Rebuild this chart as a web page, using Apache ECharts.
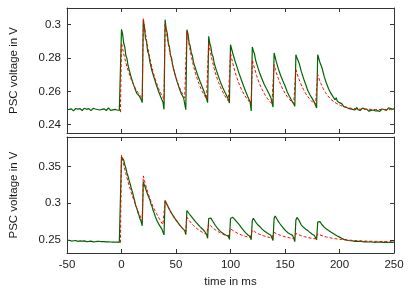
<!DOCTYPE html>
<html>
<head>
<meta charset="utf-8">
<script src="https://cdn.jsdelivr.net/npm/echarts@6/dist/echarts.min.js"></script>
<style>html,body{margin:0;padding:0;background:#fff}#c{width:415px;height:291px}</style>
</head>
<body>
<div id="c"></div>
<script>
// sampling: 1 ms, measured trace starts at -50 ms, model trace starts at -1 ms
const measStart = -50;
const modelStart = -1;
const xTicks = [-50, 0, 50, 100, 150, 200, 250];
const yTicksTop = [0.24, 0.26, 0.28, 0.3];
const yTicksBottom = [0.25, 0.3, 0.35];

// top panel, measured (green)
const measTop = [
0.2490,0.2484,0.2492,0.2487,0.2495,0.2489,0.2483,0.2491,0.2497,0.2488,
0.2493,0.2486,0.2496,0.2490,0.2485,0.2494,0.2499,0.2505,0.2492,0.2488,
0.2496,0.2490,0.2484,0.2493,0.2498,0.2489,0.2494,0.2486,0.2491,0.2497,
0.2488,0.2483,0.2492,0.2487,0.2495,0.2490,0.2485,0.2493,0.2500,0.2491,
0.2486,0.2494,0.2489,0.2484,0.2492,0.2496,0.2488,0.2491,0.2485,0.2480,
0.2972,0.2945,0.2890,0.2866,0.2815,0.2797,0.2755,0.2745,0.2705,0.2700,
0.2660,0.2658,0.2622,0.2620,0.2588,0.2592,0.2575,0.2568,0.2552,0.2532,
0.3025,0.2990,0.2918,0.2898,0.2840,0.2822,0.2778,0.2768,0.2722,0.2718,
0.2680,0.2675,0.2638,0.2636,0.2600,0.2605,0.2566,0.2572,0.2536,0.2492,
0.3030,0.2975,0.2948,0.2888,0.2866,0.2815,0.2798,0.2755,0.2745,0.2703,
0.2698,0.2658,0.2656,0.2618,0.2618,0.2584,0.2586,0.2560,0.2550,0.2490,
0.2970,0.2945,0.2892,0.2872,0.2832,0.2815,0.2775,0.2768,0.2735,0.2725,
0.2695,0.2688,0.2660,0.2652,0.2628,0.2618,0.2594,0.2590,0.2556,0.2532,
0.2930,0.2888,0.2866,0.2822,0.2808,0.2770,0.2760,0.2727,0.2718,0.2688,
0.2680,0.2652,0.2648,0.2620,0.2615,0.2593,0.2588,0.2568,0.2560,0.2530,
0.2880,0.2870,0.2830,0.2822,0.2785,0.2782,0.2745,0.2742,0.2705,0.2697,
0.2668,0.2662,0.2632,0.2628,0.2598,0.2600,0.2566,0.2570,0.2538,0.2482,
0.2866,0.2842,0.2825,0.2788,0.2782,0.2745,0.2738,0.2705,0.2702,0.2673,
0.2671,0.2641,0.2638,0.2615,0.2611,0.2590,0.2586,0.2562,0.2560,0.2506,
0.2830,0.2822,0.2778,0.2770,0.2733,0.2729,0.2695,0.2695,0.2663,0.2662,
0.2633,0.2632,0.2598,0.2602,0.2570,0.2575,0.2546,0.2551,0.2525,0.2510,
0.2820,0.2800,0.2798,0.2768,0.2760,0.2718,0.2707,0.2678,0.2672,0.2641,
0.2635,0.2603,0.2609,0.2578,0.2581,0.2556,0.2560,0.2534,0.2533,0.2500,
0.2820,0.2815,0.2775,0.2775,0.2740,0.2728,0.2688,0.2685,0.2648,0.2647,
0.2615,0.2612,0.2589,0.2587,0.2568,0.2574,0.2549,0.2562,0.2540,0.2543,
0.2532,0.2520,0.2526,0.2515,0.2508,0.2516,0.2505,0.2512,0.2498,0.2507,
0.2495,0.2503,0.2492,0.2500,0.2488,0.2497,0.2503,0.2490,0.2496,0.2485,
0.2494,0.2499,0.2488,0.2495,0.2484,0.2492,0.2488,0.2481,0.2490,0.2486,
0.2479,0.2488,0.2493,0.2482,0.2489,0.2484,0.2492,0.2480,0.2487,0.2494,
0.2485,0.2491,0.2497,0.2486,0.2494,0.2501,0.2489,0.2497,0.2503,0.2492,
0.2498
];

// top panel, model (red dashed)
const modelTop = [
0.2475,
0.2890,0.2857,0.2826,0.2798,0.2773,0.2748,0.2727,0.2707,0.2688,0.2671,
0.2655,0.2641,0.2628,0.2615,0.2604,0.2594,0.2584,0.2576,0.2568,0.2560,
0.3040,0.2991,0.2946,0.2905,0.2867,0.2831,0.2799,0.2769,0.2742,0.2717,
0.2694,0.2672,0.2653,0.2635,0.2618,0.2603,0.2589,0.2576,0.2564,0.2553,
0.3010,0.2964,0.2921,0.2882,0.2846,0.2813,0.2782,0.2754,0.2728,0.2705,
0.2683,0.2663,0.2644,0.2627,0.2611,0.2597,0.2584,0.2572,0.2561,0.2550,
0.2960,0.2918,0.2880,0.2845,0.2812,0.2782,0.2755,0.2729,0.2706,0.2684,
0.2665,0.2647,0.2630,0.2615,0.2600,0.2588,0.2576,0.2565,0.2555,0.2545,
0.2890,0.2854,0.2821,0.2791,0.2764,0.2738,0.2714,0.2693,0.2672,0.2654,
0.2638,0.2622,0.2608,0.2595,0.2582,0.2572,0.2561,0.2552,0.2543,0.2535,
0.2830,0.2799,0.2771,0.2745,0.2721,0.2699,0.2679,0.2660,0.2643,0.2628,
0.2613,0.2600,0.2588,0.2576,0.2566,0.2556,0.2548,0.2540,0.2532,0.2525,
0.2790,0.2763,0.2738,0.2715,0.2694,0.2674,0.2656,0.2640,0.2624,0.2611,
0.2598,0.2586,0.2575,0.2565,0.2556,0.2548,0.2540,0.2533,0.2526,0.2520,
0.2760,0.2736,0.2713,0.2693,0.2675,0.2657,0.2641,0.2627,0.2613,0.2601,
0.2589,0.2579,0.2569,0.2560,0.2552,0.2545,0.2538,0.2532,0.2526,0.2520,
0.2730,0.2708,0.2688,0.2670,0.2654,0.2638,0.2624,0.2611,0.2598,0.2587,
0.2577,0.2568,0.2559,0.2551,0.2544,0.2537,0.2531,0.2525,0.2520,0.2515,
0.2700,0.2680,0.2662,0.2646,0.2631,0.2617,0.2605,0.2594,0.2584,0.2575,
0.2567,0.2560,0.2553,0.2547,0.2542,0.2537,0.2532,0.2528,0.2525,0.2522,
0.2518,0.2515,0.2513,0.2510,0.2508,0.2506,0.2505,0.2503,0.2502,0.2500,
0.2499,0.2498,0.2497,0.2497,0.2496,0.2495,0.2495,0.2494,0.2494,0.2493,
0.2493,0.2492,0.2492,0.2492,0.2492,0.2492,0.2492,0.2492,0.2492,0.2492,
0.2491,0.2491,0.2491,0.2491,0.2491,0.2491,0.2491,0.2491,0.2491,0.2491,
0.2490,0.2490,0.2490,0.2490,0.2490,0.2490,0.2490,0.2490,0.2490,0.2490,
0.2490
];

// bottom panel, measured (green)
const measBottom = [
0.2492,0.2486,0.2494,0.2488,0.2483,0.2491,0.2487,0.2482,0.2490,0.2485,
0.2479,0.2488,0.2484,0.2490,0.2481,0.2477,0.2486,0.2480,0.2475,0.2484,
0.2478,0.2473,0.2482,0.2476,0.2471,0.2480,0.2474,0.2469,0.2478,0.2472,
0.2477,0.2468,0.2474,0.2469,0.2475,0.2466,0.2472,0.2467,0.2473,0.2465,
0.2470,0.2464,0.2469,0.2463,0.2468,0.2462,0.2467,0.2461,0.2466,0.2460,
0.3630,0.3640,0.3590,0.3522,0.3476,0.3410,0.3366,0.3305,0.3262,0.3198,
0.3156,0.3090,0.3036,0.2968,0.2931,0.2872,0.2836,0.2783,0.2750,0.2690,
0.3290,0.3245,0.3206,0.3158,0.3131,0.3078,0.3046,0.2988,0.2956,0.2898,
0.2866,0.2815,0.2791,0.2745,0.2726,0.2693,0.2688,0.2648,0.2636,0.2567,
0.3036,0.3010,0.2975,0.2945,0.2912,0.2885,0.2860,0.2838,0.2815,0.2798,
0.2770,0.2752,0.2730,0.2712,0.2690,0.2676,0.2655,0.2640,0.2625,0.2570,
0.2899,0.2880,0.2858,0.2840,0.2818,0.2800,0.2780,0.2765,0.2745,0.2730,
0.2712,0.2698,0.2680,0.2668,0.2650,0.2638,0.2620,0.2605,0.2578,0.2520,
0.2790,0.2817,0.2795,0.2768,0.2745,0.2718,0.2698,0.2675,0.2660,0.2640,
0.2625,0.2608,0.2598,0.2585,0.2578,0.2570,0.2562,0.2565,0.2552,0.2505,
0.2790,0.2817,0.2808,0.2790,0.2775,0.2758,0.2740,0.2722,0.2705,0.2685,
0.2665,0.2645,0.2628,0.2608,0.2595,0.2580,0.2565,0.2552,0.2545,0.2500,
0.2760,0.2794,0.2770,0.2745,0.2722,0.2705,0.2690,0.2678,0.2660,0.2645,
0.2632,0.2620,0.2610,0.2598,0.2588,0.2580,0.2570,0.2562,0.2555,0.2490,
0.2790,0.2825,0.2800,0.2772,0.2748,0.2725,0.2705,0.2685,0.2668,0.2650,
0.2630,0.2618,0.2602,0.2592,0.2580,0.2575,0.2568,0.2560,0.2548,0.2475,
0.2770,0.2805,0.2785,0.2760,0.2735,0.2700,0.2685,0.2670,0.2658,0.2645,
0.2635,0.2625,0.2610,0.2598,0.2585,0.2575,0.2568,0.2558,0.2548,0.2500,
0.2740,0.2762,0.2748,0.2728,0.2705,0.2690,0.2672,0.2660,0.2648,0.2636,
0.2626,0.2615,0.2605,0.2596,0.2588,0.2580,0.2570,0.2562,0.2552,0.2545,
0.2536,0.2527,0.2520,0.2514,0.2506,0.2502,0.2498,0.2494,0.2490,0.2493,
0.2487,0.2490,0.2484,0.2488,0.2479,0.2487,0.2480,0.2485,0.2479,0.2484,
0.2477,0.2483,0.2472,0.2481,0.2474,0.2479,0.2470,0.2478,0.2471,0.2477,
0.2470,0.2476,0.2466,0.2475,0.2468,0.2474,0.2467,0.2476,0.2468,0.2474,
0.2466,0.2472,0.2467,0.2475,0.2465,0.2471,0.2463,0.2472,0.2465,0.2470,
0.2468
];

// bottom panel, model (red dashed)
const modelBottom = [
0.2460,
0.3650,0.3585,0.3522,0.3461,0.3402,0.3346,0.3292,0.3240,0.3190,0.3142,
0.3096,0.3052,0.3010,0.2970,0.2931,0.2894,0.2858,0.2824,0.2791,0.2760,
0.3370,0.3310,0.3254,0.3202,0.3153,0.3107,0.3064,0.3024,0.2986,0.2951,
0.2918,0.2887,0.2858,0.2831,0.2805,0.2781,0.2752,0.2728,0.2706,0.2685,
0.3035,0.3000,0.2967,0.2936,0.2907,0.2879,0.2853,0.2829,0.2806,0.2784,
0.2763,0.2744,0.2725,0.2708,0.2691,0.2672,0.2655,0.2638,0.2622,0.2606,
0.2808,0.2786,0.2765,0.2746,0.2728,0.2711,0.2695,0.2681,0.2668,0.2655,
0.2643,0.2632,0.2622,0.2613,0.2604,0.2596,0.2588,0.2581,0.2574,0.2568,
0.2717,0.2701,0.2686,0.2672,0.2659,0.2647,0.2636,0.2626,0.2616,0.2607,
0.2599,0.2591,0.2583,0.2577,0.2570,0.2565,0.2559,0.2554,0.2549,0.2545,
0.2650,0.2639,0.2628,0.2618,0.2609,0.2601,0.2592,0.2585,0.2578,0.2572,
0.2566,0.2560,0.2555,0.2550,0.2546,0.2542,0.2538,0.2534,0.2531,0.2527,
0.2630,0.2620,0.2611,0.2602,0.2594,0.2587,0.2579,0.2573,0.2567,0.2561,
0.2556,0.2551,0.2547,0.2542,0.2538,0.2535,0.2531,0.2528,0.2525,0.2522,
0.2600,0.2592,0.2585,0.2578,0.2571,0.2566,0.2560,0.2555,0.2550,0.2546,
0.2541,0.2537,0.2534,0.2530,0.2527,0.2524,0.2522,0.2519,0.2517,0.2515,
0.2585,0.2578,0.2572,0.2566,0.2560,0.2555,0.2550,0.2546,0.2542,0.2538,
0.2534,0.2531,0.2527,0.2525,0.2522,0.2519,0.2517,0.2515,0.2513,0.2511,
0.2580,0.2573,0.2567,0.2561,0.2556,0.2551,0.2547,0.2542,0.2538,0.2535,
0.2531,0.2528,0.2525,0.2522,0.2520,0.2517,0.2515,0.2513,0.2511,0.2509,
0.2507,0.2506,0.2504,0.2502,0.2501,0.2500,0.2498,0.2497,0.2496,0.2495,
0.2494,0.2493,0.2492,0.2491,0.2490,0.2489,0.2488,0.2487,0.2487,0.2486,
0.2485,0.2484,0.2484,0.2483,0.2482,0.2482,0.2481,0.2481,0.2480,0.2480,
0.2479,0.2479,0.2478,0.2478,0.2478,0.2477,0.2477,0.2477,0.2476,0.2476,
0.2476,0.2475,0.2475,0.2475,0.2475,0.2474,0.2474,0.2474,0.2474,0.2474,
0.2474
];

function toPairs(start, arr) { return arr.map((v, i) => [start + i, v]); }

const FONT = 'Liberation Sans, Arial, sans-serif';
const TXT = '#1a1a1a';
const LINE = '#333';
const tickStyle = { show: true, inside: true, length: 4, lineStyle: { color: LINE, width: 1 } };
const lineStyleAx = { show: true, lineStyle: { color: LINE, width: 1 } };
const fmt = v => String(+(+v).toFixed(3));

function xAx(grid, pos, labels) {
  const a = {
    type: 'value', gridIndex: grid, position: pos, min: -50, max: 250, interval: 50,
    axisLine: Object.assign({ onZero: false }, lineStyleAx),
    axisTick: Object.assign({ customValues: xTicks }, tickStyle),
    splitLine: { show: false },
    axisLabel: { show: labels, customValues: xTicks, fontFamily: FONT, fontSize: 11.5, color: TXT, margin: 6, formatter: fmt }
  };
  if (labels) {
    a.name = 'time in ms'; a.nameLocation = 'middle'; a.nameGap = 23;
    a.nameTextStyle = { fontFamily: FONT, fontSize: 11.5, color: TXT };
  }
  return a;
}
function yAx(grid, pos, min, max, ticks, labels) {
  const a = {
    type: 'value', gridIndex: grid, position: pos, min: min, max: max,
    axisLine: Object.assign({ onZero: false }, lineStyleAx),
    axisTick: Object.assign({ customValues: ticks }, tickStyle),
    splitLine: { show: false },
    axisLabel: { show: labels, customValues: ticks, fontFamily: FONT, fontSize: 11.5, color: TXT, margin: 6, formatter: fmt }
  };
  if (labels) {
    a.name = 'PSC voltage in V'; a.nameLocation = 'middle'; a.nameGap = 47; a.nameRotate = 90;
    a.nameTextStyle = { fontFamily: FONT, fontSize: 11.5, color: TXT };
  }
  return a;
}

const chart = echarts.init(document.getElementById('c'), null, { renderer: 'canvas' });
chart.setOption({
  animation: false,
  backgroundColor: '#fff',
  grid: [
    { left: 63, right: 21, top: 8, height: 125 },
    { left: 63, right: 21, top: 137, height: 116 }
  ],
  xAxis: [xAx(0, 'bottom', false), xAx(0, 'top', false), xAx(1, 'bottom', true), xAx(1, 'top', false)],
  yAxis: [
    yAx(0, 'left', 0.235, 0.31, yTicksTop, true), yAx(0, 'right', 0.235, 0.31, yTicksTop, false),
    yAx(1, 'left', 0.232, 0.39, yTicksBottom, true), yAx(1, 'right', 0.232, 0.39, yTicksBottom, false)
  ],
  series: [
    { type: 'line', xAxisIndex: 0, yAxisIndex: 0, data: toPairs(measStart, measTop), showSymbol: false, silent: true, z: 2,
      lineStyle: { color: '#006400', width: 1.2 } },
    { type: 'line', xAxisIndex: 0, yAxisIndex: 0, data: toPairs(modelStart, modelTop), showSymbol: false, silent: true, z: 3,
      lineStyle: { color: '#ff0000', width: 1, type: [3, 2] } },
    { type: 'line', xAxisIndex: 2, yAxisIndex: 2, data: toPairs(measStart, measBottom), showSymbol: false, silent: true, z: 2,
      lineStyle: { color: '#006400', width: 1.2 } },
    { type: 'line', xAxisIndex: 2, yAxisIndex: 2, data: toPairs(modelStart, modelBottom), showSymbol: false, silent: true, z: 3,
      lineStyle: { color: '#ff0000', width: 1, type: [3, 2] } }
  ]
});
</script>
</body>
</html>
